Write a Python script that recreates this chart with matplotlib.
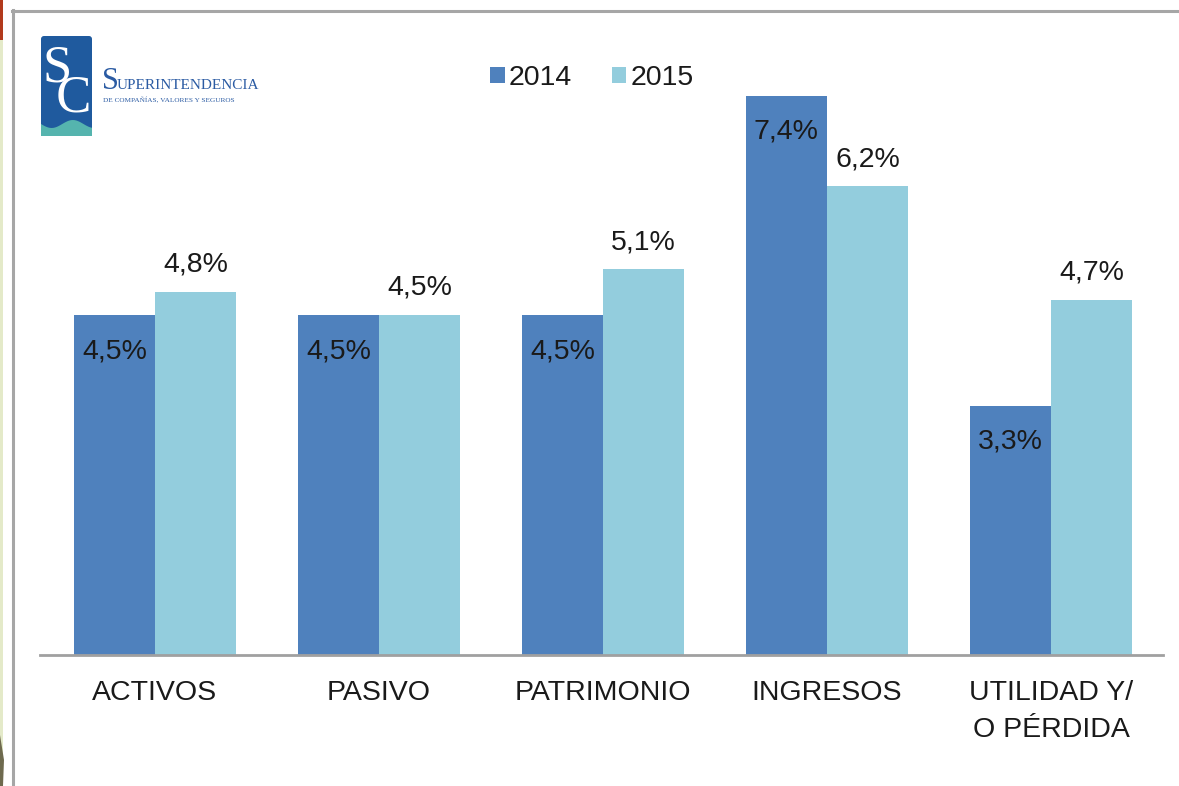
import matplotlib
matplotlib.use('Agg')
import matplotlib.pyplot as plt
from matplotlib.patches import Rectangle, Polygon, FancyBboxPatch
import numpy as np

categories = ['ACTIVOS', 'PASIVO', 'PATRIMONIO', 'INGRESOS', 'UTILIDAD Y/\nO PÉRDIDA']
v2014 = [4.5, 4.5, 4.5, 7.4, 3.3]
v2015 = [4.8, 4.5, 5.1, 6.2, 4.7]
labels2014 = ['4,5%', '4,5%', '4,5%', '7,4%', '3,3%']
labels2015 = ['4,8%', '4,5%', '5,1%', '6,2%', '4,7%']

c2014 = '#4F81BD'
c2015 = '#93CDDD'
txt = '#1a1a1a'
plt.rcParams['font.family'] = ['Liberation Sans', 'DejaVu Sans']
fs = 20.5

W, H = 1179, 786
fig = plt.figure(figsize=(W / 100, H / 100), dpi=100)
fig.patch.set_facecolor('white')

# background layer in pixel coordinates (slide frame + logo)
bg = fig.add_axes([0, 0, 1, 1])
bg.set_xlim(0, W)
bg.set_ylim(H, 0)
bg.axis('off')
bg.add_patch(Rectangle((0, 0), 3, H, color='#E4EAC9', lw=0))
bg.add_patch(Rectangle((0, 0), 3, 40, color='#B23A1C', lw=0))
bg.add_patch(Polygon([[0, 735], [4, 760], [3, 786], [0, 786]], color='#6E6A4E', lw=0))
bg.plot([12, W], [10.5, 10.5], color='#A6A6A6', lw=2.2)
bg.plot([12.5, 12.5], [10, H], color='#A6A6A6', lw=2.2)

# logo
bg.add_patch(FancyBboxPatch((41, 36), 51, 100, boxstyle='round,pad=0,rounding_size=3',
                            color='#1F5A9E', lw=0))
xs = np.linspace(41, 92, 30)
wave = np.column_stack([xs, 124 + 4 * np.sin((xs - 41) / 51 * 2.4 * np.pi)])
bg.add_patch(Polygon(np.vstack([wave, [[92, 136], [41, 136]]]), color='#55B4AE', lw=0))
serif = 'Liberation Serif'
bg.text(43, 111, 'S\n C', family=serif, fontsize=38, color='white', ha='left',
        va='baseline', linespacing=0.5, multialignment='left')
bg.text(102, 89, 'S', family=serif, fontsize=22, color='#2B5BA3', ha='left', va='baseline')
bg.text(117, 89, 'UPERINTENDENCIA', family=serif, fontsize=11, color='#2B5BA3',
        ha='left', va='baseline')
bg.text(103, 102, 'DE COMPAÑÍAS, VALORES Y SEGUROS', family=serif, fontsize=5.2,
        color='#2B5BA3', ha='left', va='baseline')

# main chart
ax = fig.add_axes([40 / W, 1 - 655 / H, (1163 - 40) / W, 595 / H])
ax.set_facecolor('none')
x = np.arange(len(categories))
w = 0.362
b1 = ax.bar(x - w / 2, v2014, w, color=c2014, label='2014')
b2 = ax.bar(x + w / 2, v2015, w, color=c2015, label='2015')

for xi, v, s in zip(x, v2014, labels2014):
    ax.text(xi - w / 2, v - 0.48, s, ha='center', va='center', fontsize=fs, color=txt)
for xi, v, s in zip(x, v2015, labels2015):
    ax.text(xi + w / 2, v + 0.36, s, ha='center', va='center', fontsize=fs, color=txt)

ax.set_xlim(-0.513, 4.5)
ax.set_ylim(0, 7.87)
ax.set_yticks([])
ax.set_xticks(x)
ax.set_xticklabels(categories, fontsize=fs, color=txt, linespacing=1.55)
ax.tick_params(axis='x', length=0, pad=18)
for side in ['top', 'right', 'left']:
    ax.spines[side].set_visible(False)
ax.spines['bottom'].set_color('#A0A0A0')
ax.spines['bottom'].set_linewidth(2)

fig.legend(handles=[b1, b2], loc='center', bbox_to_anchor=(592 / W, 1 - 78 / H),
           ncol=2, frameon=False, fontsize=fs, handlelength=0.5, handleheight=0.5,
           handletextpad=0.15, columnspacing=1.4, borderpad=0, labelcolor=txt)

fig.savefig('out.png', dpi=100)
